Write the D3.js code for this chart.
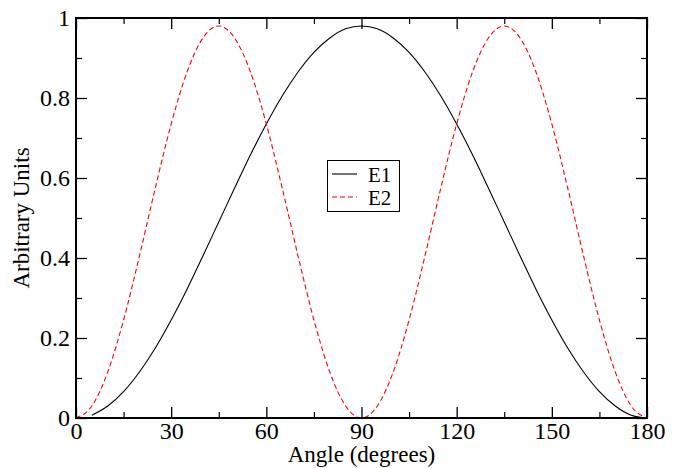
<!DOCTYPE html>
<html>
<head>
<meta charset="utf-8">
<script src="https://cdn.jsdelivr.net/npm/d3@7"></script>
<style>
  html, body { margin: 0; padding: 0; background: #fff; }
  svg { display: block; }
  svg text { font-family: "Liberation Serif", "Times New Roman", serif; fill: #000; }
</style>
</head>
<body>
<svg id="chart" width="680" height="468"></svg>
<script>
// ---- data ----
const anglesE1 = [5,10,15,20,25,30,35,40,45,50,55,60,65,70,75,80,85,90,95,100,105,110,115,120,125,130,135,140,145,150,155,160,165,170,175,180];
const valuesE1 = [0.007,0.030,0.066,0.115,0.175,0.245,0.322,0.405,0.490,0.575,0.658,0.735,0.805,0.865,0.914,0.950,0.973,0.980,0.973,0.950,0.914,0.865,0.805,0.735,0.658,0.575,0.490,0.405,0.322,0.245,0.175,0.115,0.066,0.030,0.007,0.0];
const anglesE2 = [0,5,10,15,20,25,30,35,40,45,50,55,60,65,70,75,80,85,90,95,100,105,110,115,120,125,130,135,140,145,150,155,160,165,170,175,180];
const valuesE2 = [0.0,0.030,0.115,0.245,0.405,0.575,0.735,0.865,0.950,0.980,0.950,0.865,0.735,0.575,0.405,0.245,0.115,0.030,0.0,0.030,0.115,0.245,0.405,0.575,0.735,0.865,0.950,0.980,0.950,0.865,0.735,0.575,0.405,0.245,0.115,0.030,0.0];
const xMajorTicks = [0,30,60,90,120,150,180];
const xMinorTicks = [15,45,75,105,135,165];
const yMajorTicks = [0,0.2,0.4,0.6,0.8,1];
const yMinorTicks = [0.1,0.3,0.5,0.7,0.9];
const yTickLabels = ["0","0.2","0.4","0.6","0.8","1"];
const seriesNames = ["E1","E2"];
const xTitle = "Angle (degrees)";
const yTitle = "Arbitrary Units";

// ---- layout ----
const FONT = '"Liberation Serif", "Times New Roman", serif';
const L = 76, R = 647, T = 18, B = 418;
const svg = d3.select("#chart");
const x = d3.scaleLinear().domain([0,180]).range([L,R]);
const y = d3.scaleLinear().domain([0,1]).range([B,T]);

const line = d3.line().x(d => x(d[0])).y(d => y(d[1])).curve(d3.curveMonotoneX);
const e1 = anglesE1.map((a,i) => [a, valuesE1[i]]);
const e2 = anglesE2.map((a,i) => [a, valuesE2[i]]);
const plot = svg.append("g");
plot.append("path").datum(e1).attr("d", line)
  .attr("fill","none").attr("stroke","#000").attr("stroke-width",1.1);
plot.append("path").datum(e2).attr("d", line)
  .attr("fill","none").attr("stroke","#ff0000").attr("stroke-width",1.1)
  .attr("stroke-dasharray","5,3");

function styleAxis(g, sw){
  g.attr("font-family", FONT);
  g.select(".domain").remove();
  g.selectAll(".tick line").attr("stroke","#000").attr("stroke-width",sw);
  g.selectAll("text").attr("font-family", FONT).style("font-size","24px").attr("fill","#000");
}
const ax = svg.append("g").attr("transform",`translate(0,${B})`)
  .call(d3.axisBottom(x).tickValues(xMajorTicks).tickSize(-11).tickPadding(4).tickFormat(d3.format("d")));
styleAxis(ax, 1.3);
const axm = svg.append("g").attr("transform",`translate(0,${B})`)
  .call(d3.axisBottom(x).tickValues(xMinorTicks).tickSize(-6).tickFormat(""));
styleAxis(axm, 1.2);
const axt = svg.append("g").attr("transform",`translate(0,${T})`)
  .call(d3.axisTop(x).tickValues(xMajorTicks).tickSize(-11).tickFormat(""));
styleAxis(axt, 1.3);
const axtm = svg.append("g").attr("transform",`translate(0,${T})`)
  .call(d3.axisTop(x).tickValues(xMinorTicks).tickSize(-6).tickFormat(""));
styleAxis(axtm, 1.2);
const ay = svg.append("g").attr("transform",`translate(${L},0)`)
  .call(d3.axisLeft(y).tickValues(yMajorTicks).tickSize(-11).tickPadding(6).tickFormat((d,i) => yTickLabels[i]));
styleAxis(ay, 1.3);
const aym = svg.append("g").attr("transform",`translate(${L},0)`)
  .call(d3.axisLeft(y).tickValues(yMinorTicks).tickSize(-6).tickFormat(""));
styleAxis(aym, 1.2);
const ar = svg.append("g").attr("transform",`translate(${R},0)`)
  .call(d3.axisRight(y).tickValues(yMajorTicks).tickSize(-11).tickFormat(""));
styleAxis(ar, 1.3);
const arm = svg.append("g").attr("transform",`translate(${R},0)`)
  .call(d3.axisRight(y).tickValues(yMinorTicks).tickSize(-6).tickFormat(""));
styleAxis(arm, 1.2);

svg.append("rect").attr("x",L).attr("y",T).attr("width",R-L).attr("height",B-T)
  .attr("fill","none").attr("stroke","#000").attr("stroke-width",2);

svg.append("text").attr("x",(L+R)/2).attr("y",462).attr("text-anchor","middle")
  .attr("font-family", FONT).style("font-size","23px").text(xTitle);
svg.append("text").attr("transform",`translate(29,${(T+B)/2}) rotate(-90)`)
  .attr("text-anchor","middle").attr("font-family", FONT).style("font-size","23px").text(yTitle);

const lg = svg.append("g");
lg.append("rect").attr("x",327.5).attr("y",160.5).attr("width",72).attr("height",51)
  .attr("fill","#fff").attr("stroke","#000").attr("stroke-width",1);
const legendStyles = [{stroke:"#000", dash:null}, {stroke:"#ff0000", dash:"5,3"}];
const legendY = [174, 197];
seriesNames.forEach((name,i) => {
  const ly = legendY[i];
  lg.append("line").attr("x1",332).attr("x2",357).attr("y1",ly).attr("y2",ly)
    .attr("stroke",legendStyles[i].stroke).attr("stroke-width",1.1)
    .attr("stroke-dasharray",legendStyles[i].dash);
  lg.append("text").attr("x",368).attr("y",ly+8).attr("font-family", FONT).style("font-size","21px").text(name);
});
</script>
</body>
</html>
